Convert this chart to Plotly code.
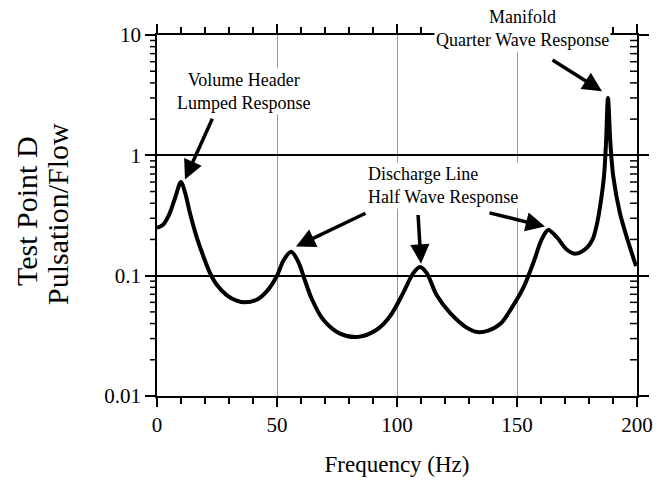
import math
import plotly.graph_objects as go

freq_hz = [0, 2.5, 5, 7.5, 10, 11.7, 13.75, 16.5, 19.3, 22.1, 24.9, 29, 33.2, 36.7, 41.5,
           45.7, 49.9, 52.8, 55.9, 58.9, 61.5, 64.5, 69.3, 76.25, 83.9, 91.5, 97.1, 102.6,
           106.8, 109.6, 112.4, 116.5, 122.1, 129, 133.5, 138, 143.2, 147.8, 152.6, 156.8,
           160.3, 163, 166.5, 170.7, 174.2, 179, 181.5, 183.5, 185.2, 186.25, 187.1, 187.9,
           188.9, 190.1, 192.9, 196.2, 199.6]
pulsation_flow = [0.25, 0.265, 0.32, 0.44, 0.60, 0.49, 0.33, 0.21, 0.145, 0.105, 0.084, 0.069,
                  0.062, 0.06, 0.063, 0.074, 0.099, 0.135, 0.158, 0.13, 0.093, 0.064, 0.043,
                  0.033, 0.031, 0.0355, 0.046, 0.072, 0.105, 0.118, 0.105, 0.069, 0.049, 0.037,
                  0.034, 0.035, 0.040, 0.054, 0.079, 0.128, 0.20, 0.24, 0.21, 0.165, 0.152,
                  0.17, 0.20, 0.28, 0.45, 0.67, 1.28, 3.0, 1.28, 0.67, 0.33, 0.195, 0.12]

y_tickvals = [0.01, 0.1, 1, 10]
y_ticktext = ["0.01", "0.1", "1", "10"]
y_minorvals = [m * d for d in (0.01, 0.1, 1) for m in range(2, 10)]
x_tickvals = [0, 50, 100, 150, 200]
Y_RANGE_LOG = [-2, 1]

FONT = "Liberation Serif, Times New Roman, serif"

# pixel helpers (plot area: x 157..637, y 35..396, 120 px per decade)
def xv(px):
    return (px - 157) / 2.4
def ylog(py):
    return (156 - py) / 120
def ypaper(py):
    return (396 - py) / 361

fig = go.Figure()
fig.add_trace(go.Scatter(x=freq_hz, y=pulsation_flow, mode="lines",
                         line=dict(color="black", width=4, shape="spline", smoothing=0.9),
                         showlegend=False, hoverinfo="skip"))

# minor log ticks on left and right axes
tick_w = 7 / 480
for v in y_minorvals:
    yp = (math.log10(v) - Y_RANGE_LOG[0]) / (Y_RANGE_LOG[1] - Y_RANGE_LOG[0])
    fig.add_shape(type="line", xref="paper", yref="paper", x0=-tick_w, x1=0, y0=yp, y1=yp,
                  line=dict(color="black", width=1.5), layer="above")
    fig.add_shape(type="line", xref="paper", yref="paper", x0=1 - tick_w, x1=1, y0=yp, y1=yp,
                  line=dict(color="black", width=1.5), layer="above")

def arrow(tx, ty, hx, hy):
    fig.add_annotation(x=xv(hx), y=ylog(hy), ax=xv(tx), ay=ylog(ty),
                       xref="x", yref="y", axref="x", ayref="y",
                       text="", showarrow=True, arrowhead=2, arrowsize=1.1, arrowwidth=3.5,
                       arrowcolor="black", standoff=0)

arrow(213, 118, 185, 180)
arrow(367, 213, 296, 247)
arrow(418, 214, 421, 264)
arrow(488, 213, 545, 227)
arrow(551, 60, 602, 92)

ann_font = dict(family=FONT, size=18, color="black")
fig.add_annotation(x=xv(243), y=ylog(92), xref="x", yref="y",
                   text="Volume Header<br>Lumped Response",
                   showarrow=False, font=ann_font, align="center", bgcolor="white")
fig.add_annotation(x=xv(366), y=ylog(186), xref="x", yref="y", xanchor="left",
                   text="Discharge Line<br>Half Wave Response",
                   showarrow=False, font=ann_font, align="left", bgcolor="white")
fig.add_annotation(x=xv(522), y=ypaper(29), xref="x", yref="paper", yanchor="middle",
                   xanchor="center",
                   text="Manifold<br>Quarter Wave Response",
                   showarrow=False, font=ann_font, align="center", bgcolor="white")

# y-axis title (two rotated lines)
ytitle_font = dict(family=FONT, size=30, color="black")
fig.add_annotation(x=(26 - 157) / 480, y=ypaper(211), xref="paper", yref="paper",
                   xanchor="center", yanchor="middle",
                   text="Test Point D", textangle=-90, showarrow=False, font=ytitle_font)
fig.add_annotation(x=(57 - 157) / 480, y=ypaper(214), xref="paper", yref="paper",
                   xanchor="center", yanchor="middle",
                   text="Pulsation/Flow", textangle=-90, showarrow=False, font=ytitle_font)

fig.update_layout(
    width=668, height=485,
    margin=dict(l=157, r=31, t=35, b=89),
    paper_bgcolor="white", plot_bgcolor="white",
    font=dict(family=FONT, color="black"),
    xaxis=dict(range=[0, 200], tickvals=x_tickvals, ticks="outside", ticklen=9, tickwidth=1.5,
               tickcolor="black", showline=True, linecolor="black", linewidth=1.5, mirror="ticks",
               showgrid=True, gridcolor="#999999", gridwidth=1, zeroline=False,
               tickfont=dict(family=FONT, size=21, color="black"),
               minor=dict(dtick=10, ticks="outside", ticklen=6, tickwidth=1.5, tickcolor="black",
                          showgrid=False),
               title=dict(text="Frequency (Hz)", font=dict(family=FONT, size=23, color="black"),
                          standoff=20)),
    yaxis=dict(type="log", range=Y_RANGE_LOG, tickvals=y_tickvals, ticktext=y_ticktext,
               ticks="outside", ticklen=10, tickwidth=1.5, tickcolor="black",
               showline=True, linecolor="black", linewidth=1.5, mirror="ticks",
               showgrid=True, gridcolor="black", gridwidth=1.5, zeroline=False,
               tickfont=dict(family=FONT, size=21, color="black")),
)

fig.write_html("out.html")
